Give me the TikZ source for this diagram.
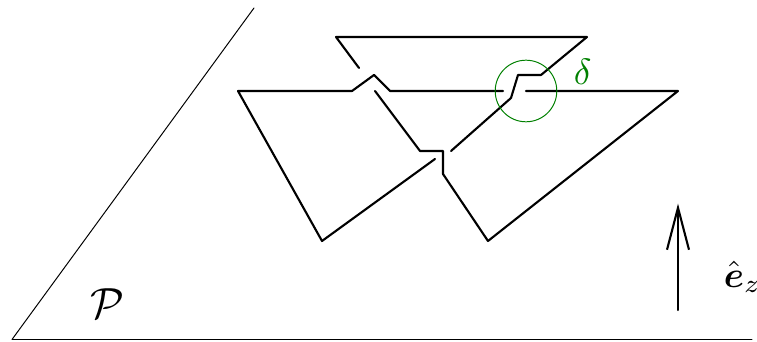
\documentclass[tikz,border=0pt]{standalone}
\usepackage{amsmath}
\usetikzlibrary{arrows.meta}
\definecolor{deltagreen}{RGB}{0,128,0}

\begin{document}
\begin{tikzpicture}[line cap=round,line join=round]
  \useasboundingbox (0,0) rectangle (18.925,8.55);
  \coordinate (C) at (13.15,6.275);
  % plane
  \draw[line width=0.7pt] (6.35,8.35) -- (0.30,0.0625) -- (18.80,0.0625);
  \node[scale=3.1] (planelabel) at (2.69,0.97) {$\mathcal{P}$};
  % strands
  \draw[line width=1.5pt] (8.975,6.85) -- (8.40,7.625) -- (14.675,7.625) -- (13.525,6.675) -- (12.95,6.675) -- (12.775,6.10) -- (11.275,4.775);
  \draw[line width=1.5pt] (10.875,4.575) -- (8.05,2.525) -- (5.95,6.275) -- (8.80,6.275) -- (9.35,6.675) -- (9.75,6.275) -- (12.575,6.275);
  \draw[line width=1.5pt] (13.15,6.275) -- (16.95,6.275) -- (12.20,2.525) -- (11.075,4.20) -- (11.075,4.775) -- (10.50,4.775) -- (9.375,6.275);
  % regularisation circle
  \draw[line width=0.7pt,deltagreen] (C) circle (0.77);
  \node[text=deltagreen,scale=2.6] (deltalabel) at (14.57,6.75) {$\delta$};
  % axis
  \coordinate (A) at (16.95,0.80);
  \coordinate (B) at (16.95,3.46);
  \draw[line width=1.5pt,-{Straight Barb[length=42*0.025cm,width=22*0.025cm,line width=1.5pt]}] (A) -- (B);
  \node[scale=2.6] (ezlabel) at (18.56,1.62) {$\hat{\boldsymbol{e}}_z$};
\end{tikzpicture}
\end{document}
